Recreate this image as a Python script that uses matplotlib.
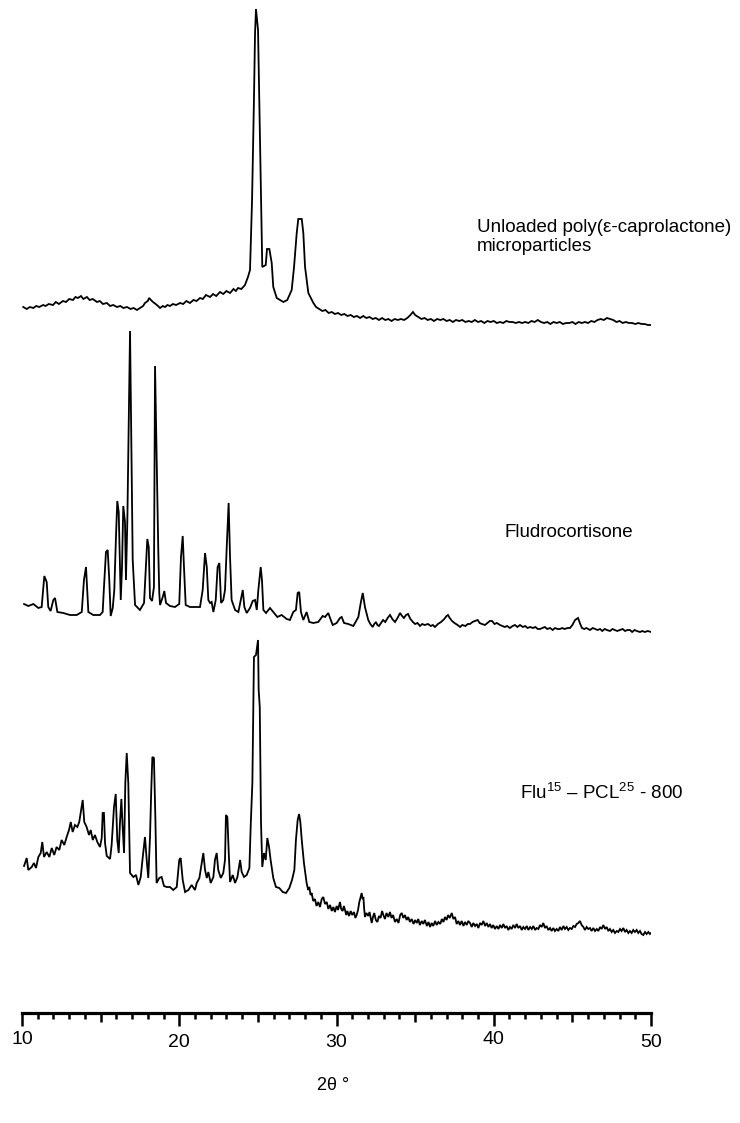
import matplotlib
matplotlib.use("Agg")
import matplotlib.pyplot as plt
from matplotlib.ticker import FixedLocator
from matplotlib.transforms import ScaledTranslation

plt.rcParams['font.family'] = ['Liberation Sans', 'DejaVu Sans']
plt.rcParams['mathtext.fontset'] = 'custom'
plt.rcParams['mathtext.rm'] = 'Liberation Sans'
plt.rcParams['mathtext.it'] = 'Liberation Sans'
plt.rcParams['mathtext.default'] = 'regular'

# ---------------- data (2-theta in degrees, intensity in arbitrary units) -------------
pcl_2theta = [
    10.08, 10.3, 10.5, 10.72, 10.9, 11.1, 11.34, 11.5, 11.7, 11.97,
    12.15, 12.35, 12.6, 12.8, 13.0, 13.24, 13.4, 13.56, 13.75, 13.9,
    14.13, 14.3, 14.5, 14.77, 14.95, 15.15, 15.4, 15.6, 15.8, 16.04,
    16.25, 16.45, 16.68, 16.9, 17.1, 17.31, 17.5, 17.7, 17.82, 18.0,
    18.08, 18.2, 18.33, 18.5, 18.65, 18.78, 18.95, 19.1, 19.25, 19.41,
    19.6, 19.8, 20.05, 20.25, 20.45, 20.68, 20.9, 21.1, 21.32, 21.5,
    21.7, 21.96, 22.15, 22.35, 22.59, 22.8, 23.0, 23.23, 23.45, 23.6,
    23.74, 23.95, 24.18, 24.37, 24.5, 24.63, 24.75, 24.82, 24.88, 25.01,
    25.09, 25.2, 25.28, 25.5, 25.58, 25.73, 25.88, 25.98, 26.2, 26.62,
    26.87, 27.15, 27.3, 27.47, 27.57, 27.79, 27.89, 28.0, 28.21, 28.53,
    28.7, 28.9, 29.1, 29.3, 29.5, 29.7, 29.9, 30.1, 30.3, 30.5,
    30.7, 30.9, 31.1, 31.3, 31.5, 31.7, 31.9, 32.1, 32.3, 32.5,
    32.7, 32.9, 33.1, 33.3, 33.5, 33.7, 33.9, 34.1, 34.3, 34.5,
    34.7, 34.86, 35.0, 35.2, 35.4, 35.6, 35.8, 36.0, 36.2, 36.4,
    36.6, 36.8, 37.0, 37.2, 37.4, 37.6, 37.8, 38.0, 38.2, 38.4,
    38.6, 38.8, 39.0, 39.2, 39.4, 39.6, 39.8, 40.0, 40.2, 40.4,
    40.6, 40.8, 41.0, 41.2, 41.4, 41.6, 41.8, 42.0, 42.2, 42.4,
    42.6, 42.8, 43.0, 43.2, 43.4, 43.6, 43.8, 44.0, 44.2, 44.4,
    44.6, 44.8, 45.0, 45.2, 45.4, 45.6, 45.8, 46.0, 46.2, 46.4,
    46.6, 46.8, 47.0, 47.2, 47.4, 47.6, 47.8, 48.0, 48.2, 48.4,
    48.6, 48.8, 49.0, 49.2, 49.4, 49.6, 49.8, 50.0]
pcl_counts = [
    18, 16, 18, 17, 19, 18, 20, 19, 21, 20,
    23, 21, 24, 23, 26, 25, 28, 27, 29, 26,
    28, 25, 26, 23, 24, 21, 22, 19, 20, 18,
    19, 17, 18, 16, 17, 15, 17, 19, 22, 24,
    27, 25, 23, 21, 19, 17, 19, 18, 20, 19,
    21, 20, 22, 21, 24, 22, 25, 24, 27, 26,
    30, 28, 31, 29, 33, 31, 34, 32, 36, 34,
    37, 36, 40, 48, 55, 125, 225, 292, 316, 295,
    225, 125, 58, 60, 76, 76, 62, 38, 27, 23,
    25, 35, 58, 92, 106, 106, 92, 58, 32, 22,
    18, 16, 14, 15, 12, 13, 11, 12, 10, 11,
    9, 10, 8, 9, 7, 9, 7, 8, 6, 7,
    5, 7, 5, 6, 4, 6, 5, 6, 5, 7,
    10, 13, 10, 8, 6, 7, 5, 6, 4, 6,
    5, 6, 4, 5, 3, 5, 4, 5, 3, 4,
    3, 5, 3, 4, 2, 4, 3, 4, 2, 3,
    2, 4, 3, 3, 2, 3, 2, 3, 2, 4,
    3, 5, 3, 2, 3, 1, 3, 2, 3, 1,
    2, 2, 3, 1, 3, 2, 3, 2, 4, 3,
    5, 6, 5, 7, 6, 5, 3, 4, 2, 3,
    2, 2, 1, 2, 1, 1, 0, 0]

flu_2theta = [
    10.13, 10.4, 10.72, 11.04, 11.25, 11.42, 11.57, 11.67, 11.82, 11.99,
    12.1, 12.25, 12.63, 13.05, 13.48, 13.8, 13.94, 14.07, 14.22, 14.53,
    14.96, 15.13, 15.21, 15.34, 15.45, 15.55, 15.64, 15.77, 15.87, 15.98,
    16.06, 16.15, 16.28, 16.36, 16.44, 16.55, 16.61, 16.7, 16.77, 16.87,
    16.97, 17.04, 17.19, 17.5, 17.76, 17.89, 17.97, 18.06, 18.14, 18.27,
    18.39, 18.46, 18.56, 18.67, 18.73, 18.78, 18.95, 19.05, 19.16, 19.41,
    19.73, 20.0, 20.11, 20.22, 20.3, 20.41, 20.68, 21.32, 21.49, 21.64,
    21.75, 21.85, 21.96, 22.06, 22.17, 22.32, 22.44, 22.55, 22.66, 22.8,
    22.91, 23.02, 23.14, 23.23, 23.33, 23.55, 23.76, 23.91, 24.04, 24.14,
    24.29, 24.5, 24.67, 24.82, 24.93, 25.03, 25.18, 25.26, 25.35, 25.52,
    25.77, 25.98, 26.24, 26.51, 26.83, 27.04, 27.25, 27.42, 27.53, 27.63,
    27.74, 27.89, 28.1, 28.27, 28.53, 28.84, 29.12, 29.27, 29.48, 29.59,
    29.76, 30.01, 30.22, 30.33, 30.48, 30.75, 31.07, 31.39, 31.54, 31.67,
    31.81, 32.02, 32.15, 32.3, 32.4, 32.51, 32.6, 32.7, 32.83, 32.96,
    33.1, 33.25, 33.4, 33.55, 33.72, 33.88, 34.04, 34.17, 34.29, 34.42,
    34.55, 34.7, 34.86, 35.0, 35.15, 35.31, 35.45, 35.6, 35.82, 36.0,
    36.13, 36.26, 36.45, 36.65, 36.85, 37.0, 37.09, 37.2, 37.35, 37.5,
    37.7, 37.86, 38.0, 38.2, 38.35, 38.49, 38.65, 38.8, 38.98, 39.1,
    39.25, 39.44, 39.6, 39.75, 39.89, 40.05, 40.2, 40.4, 40.55, 40.7,
    40.85, 41.03, 41.2, 41.35, 41.5, 41.67, 41.85, 42.0, 42.15, 42.31,
    42.5, 42.65, 42.8, 42.94, 43.1, 43.25, 43.4, 43.58, 43.75, 43.9,
    44.05, 44.21, 44.35, 44.5, 44.7, 44.85, 45.0, 45.17, 45.36, 45.5,
    45.61, 45.75, 45.9, 46.12, 46.3, 46.45, 46.6, 46.76, 46.9, 47.05,
    47.2, 47.39, 47.55, 47.7, 47.85, 48.03, 48.2, 48.35, 48.5, 48.66,
    48.8, 48.95, 49.1, 49.3, 49.45, 49.6, 49.8, 50.0]
flu_counts = [
    29, 27, 29, 25, 26, 57, 51, 26, 22, 33,
    35, 21, 20, 18, 18, 21, 53, 66, 21, 18,
    18, 21, 45, 81, 83, 53, 17, 25, 43, 98,
    132, 121, 33, 66, 127, 111, 53, 113, 193, 302,
    163, 73, 28, 23, 30, 70, 94, 86, 35, 32,
    46, 267, 180, 80, 40, 28, 36, 42, 30, 27,
    26, 29, 76, 97, 66, 28, 26, 26, 43, 80,
    66, 33, 30, 31, 21, 33, 66, 70, 30, 33,
    43, 86, 130, 76, 33, 23, 21, 33, 43, 26,
    20, 25, 32, 33, 23, 43, 66, 53, 23, 20,
    25, 21, 16, 18, 14, 13, 21, 23, 40, 41,
    21, 13, 21, 11, 10, 11, 17, 16, 20, 15,
    8, 10, 15, 16, 10, 9, 7, 16, 30, 40,
    26, 13, 9, 6, 9, 11, 8, 7, 10, 13,
    11, 15, 18, 14, 11, 15, 20, 17, 15, 18,
    19, 14, 11, 9, 10, 7, 9, 8, 9, 7,
    8, 6, 9, 11, 14, 17, 18, 15, 12, 10,
    8, 6, 8, 7, 9, 9, 11, 12, 13, 10,
    9, 8, 10, 12, 12, 9, 10, 8, 7, 6,
    7, 5, 7, 8, 6, 8, 6, 7, 5, 6,
    5, 6, 4, 4, 5, 6, 4, 5, 3, 5,
    4, 4, 5, 4, 5, 5, 8, 13, 15, 9,
    5, 4, 5, 3, 5, 4, 3, 4, 2, 4,
    3, 2, 4, 3, 2, 3, 4, 2, 3, 3,
    1, 3, 2, 1, 2, 1, 2, 1]

mix_2theta = [
    10.13, 10.3, 10.4, 10.62, 10.76, 10.89, 11.04, 11.19, 11.29, 11.4,
    11.57, 11.74, 11.89, 12.05, 12.2, 12.37, 12.52, 12.69, 12.84, 12.99,
    13.1, 13.22, 13.37, 13.52, 13.64, 13.73, 13.86, 13.96, 14.11, 14.26,
    14.37, 14.5, 14.64, 14.79, 14.96, 15.07, 15.13, 15.21, 15.28, 15.39,
    15.6, 15.7, 15.85, 15.96, 16.06, 16.15, 16.23, 16.32, 16.4, 16.49,
    16.57, 16.66, 16.76, 16.87, 17.08, 17.25, 17.4, 17.55, 17.68, 17.82,
    17.93, 18.03, 18.14, 18.22, 18.29, 18.39, 18.48, 18.56, 18.73, 18.88,
    19.03, 19.2, 19.41, 19.62, 19.84, 20.0, 20.09, 20.22, 20.37, 20.58,
    20.79, 21.0, 21.11, 21.28, 21.43, 21.53, 21.64, 21.75, 21.85, 22.0,
    22.17, 22.27, 22.38, 22.48, 22.64, 22.8, 22.91, 22.97, 23.06, 23.14,
    23.23, 23.4, 23.55, 23.7, 23.87, 23.97, 24.12, 24.29, 24.46, 24.55,
    24.65, 24.75, 24.88, 25.01, 25.05, 25.12, 25.2, 25.28, 25.39, 25.5,
    25.6, 25.71, 25.81, 25.98, 26.15, 26.36, 26.58, 26.79, 27.0, 27.17,
    27.32, 27.42, 27.53, 27.62, 27.7, 27.79, 27.93, 28.1, 28.2, 28.27,
    28.35, 28.42, 28.52, 28.63, 28.73, 28.84, 28.95, 29.06, 29.16, 29.27,
    29.38, 29.48, 29.59, 29.7, 29.8, 29.9, 30.01, 30.1, 30.22, 30.3,
    30.39, 30.47, 30.54, 30.62, 30.69, 30.8, 30.9, 31.0, 31.11, 31.2,
    31.28, 31.37, 31.45, 31.52, 31.6, 31.66, 31.71, 31.76, 31.81, 31.9,
    32.02, 32.1, 32.24, 32.32, 32.4, 32.5, 32.6, 32.7, 32.8, 32.9,
    32.98, 33.08, 33.18, 33.3, 33.4, 33.5, 33.6, 33.72, 33.83, 33.94,
    34.05, 34.15, 34.25, 34.35, 34.46, 34.56, 34.67, 34.78, 34.9, 35.0,
    35.1, 35.2, 35.3, 35.42, 35.52, 35.62, 35.75, 35.85, 35.95, 36.05,
    36.15, 36.27, 36.37, 36.48, 36.6, 36.7, 36.8, 36.9, 37.0, 37.1,
    37.2, 37.33, 37.43, 37.54, 37.64, 37.75, 37.85, 37.96, 38.07, 38.17,
    38.28, 38.38, 38.49, 38.6, 38.7, 38.81, 38.92, 39.02, 39.13, 39.23,
    39.34, 39.45, 39.55, 39.66, 39.76, 39.87, 39.97, 40.08, 40.19, 40.3,
    40.4, 40.51, 40.61, 40.72, 40.82, 40.93, 41.03, 41.14, 41.24, 41.35,
    41.46, 41.56, 41.67, 41.78, 41.88, 41.99, 42.1, 42.2, 42.31, 42.42,
    42.52, 42.63, 42.73, 42.84, 42.94, 43.05, 43.15, 43.26, 43.36, 43.47,
    43.58, 43.68, 43.79, 43.89, 44.0, 44.11, 44.21, 44.32, 44.43, 44.53,
    44.64, 44.74, 44.85, 44.96, 45.06, 45.17, 45.27, 45.38, 45.48, 45.59,
    45.7, 45.8, 45.91, 46.01, 46.12, 46.22, 46.33, 46.44, 46.55, 46.65,
    46.76, 46.86, 46.97, 47.08, 47.18, 47.29, 47.39, 47.5, 47.6, 47.71,
    47.82, 47.92, 48.03, 48.13, 48.24, 48.35, 48.45, 48.56, 48.66, 48.77,
    48.87, 48.98, 49.09, 49.19, 49.3, 49.4, 49.51, 49.62, 49.72, 49.83,
    49.93, 50.0]
mix_counts = [
    71, 79, 67, 70, 74, 69, 80, 84, 95, 80,
    85, 80, 89, 82, 90, 87, 97, 92, 100, 107,
    115, 105, 112, 110, 115, 124, 137, 115, 110, 102,
    107, 97, 102, 95, 90, 99, 124, 124, 94, 81,
    78, 92, 130, 143, 97, 84, 114, 138, 110, 84,
    154, 184, 154, 64, 60, 62, 52, 60, 80, 100,
    77, 59, 100, 147, 180, 179, 120, 54, 59, 60,
    51, 50, 50, 47, 50, 77, 79, 57, 45, 47,
    52, 47, 54, 59, 74, 84, 67, 59, 65, 54,
    60, 77, 84, 67, 59, 64, 77, 122, 120, 87,
    55, 62, 54, 60, 77, 65, 60, 62, 69, 114,
    154, 280, 282, 297, 247, 230, 114, 70, 84, 77,
    99, 90, 77, 59, 50, 49, 45, 44, 49, 57,
    67, 97, 117, 123, 115, 97, 74, 54, 47, 50,
    42, 44, 36, 38, 31, 35, 30, 38, 40, 33,
    35, 28, 32, 26, 30, 25, 31, 27, 35, 28,
    26, 31, 27, 22, 26, 21, 26, 22, 25, 19,
    22, 27, 35, 39, 44, 38, 40, 28, 20, 24,
    21, 25, 14, 20, 24, 17, 15, 21, 19, 26,
    22, 18, 24, 20, 25, 19, 22, 15, 18, 14,
    22, 24, 19, 22, 17, 20, 15, 18, 13, 17,
    14, 18, 12, 16, 13, 17, 11, 15, 10, 14,
    11, 16, 12, 15, 13, 18, 15, 20, 17, 22,
    19, 24, 18, 20, 13, 16, 12, 16, 11, 15,
    12, 16, 14, 10, 14, 11, 13, 9, 14, 12,
    16, 11, 14, 10, 13, 9, 12, 8, 11, 8,
    12, 9, 13, 9, 11, 7, 10, 8, 12, 9,
    13, 9, 11, 7, 10, 8, 11, 7, 10, 8,
    11, 7, 9, 8, 12, 10, 14, 9, 11, 7,
    9, 6, 9, 6, 8, 6, 10, 7, 11, 8,
    10, 7, 9, 8, 11, 10, 13, 14, 16, 12,
    10, 7, 10, 8, 9, 6, 9, 6, 8, 6,
    10, 8, 12, 8, 10, 6, 8, 5, 7, 4,
    6, 5, 8, 6, 9, 5, 7, 4, 6, 4,
    7, 5, 7, 4, 6, 3, 2, 5, 3, 5,
    3, 4]

sample_labels = ["Unloaded poly(\u03b5-caprolactone)\nmicroparticles",
                 "Fludrocortisone",
                 "Flu$^{15}$ \u2013 PCL$^{25}$ - 800"]
tick_values = [10, 20, 30, 40, 50]

# ---------------- layout ----------------
W, H = 740, 1123
fig = plt.figure(figsize=(W / 100, H / 100), dpi=100)
ax = fig.add_axes([22 / W, (H - 1013) / H, (651 - 22) / W, 1013 / H])
ax.set_xlim(10, 50)
ax.set_ylim(0, 1013)

offsets = [688, 380, 76]
series = [(pcl_2theta, pcl_counts), (flu_2theta, flu_counts), (mix_2theta, mix_counts)]
for (xs, ys), off in zip(series, offsets):
    ax.plot(xs, [v + off for v in ys], color='black', lw=1.3, solid_joinstyle='miter')

for s in ['left', 'right', 'top']:
    ax.spines[s].set_visible(False)
ax.spines['bottom'].set_linewidth(2.3)
ax.set_yticks([])
minor_locs = [v for v in range(10, 51) if v % 10 != 0]
ax.xaxis.set_major_locator(FixedLocator(tick_values))
ax.xaxis.set_minor_locator(FixedLocator(minor_locs))
ax.set_xticklabels([str(v) for v in tick_values])
ax.tick_params(axis='x', which='major', direction='out', length=9, width=1.8,
               labelsize=14, pad=6)
ax.tick_params(axis='x', which='minor', direction='out', length=4.5, width=1.8)
for t, loc in zip(ax.xaxis.get_minor_ticks(len(minor_locs)), minor_locs):
    if loc % 5 == 0:
        t.tick1line.set_markersize(6.5)

fig.canvas.draw()
for lab in ax.get_xticklabels():
    if lab.get_text() in ('10', '40'):
        lab.set_transform(lab.get_transform() + ScaledTranslation(0, 3 / 100, fig.dpi_scale_trans))

fig.text(333 / W, 1 - 1085 / H, "2\u03b8 \u00b0", ha='center', va='center', fontsize=13)

fig.text(477 / W, 1 - 237 / H, sample_labels[0], ha='left', va='center', fontsize=13.5,
         linespacing=1.2)
fig.text(505 / W, 1 - 533 / H, sample_labels[1], ha='left', va='center', fontsize=13.5)
fig.text(520 / W, 1 - 793 / H, sample_labels[2], ha='left', va='center', fontsize=13.5)

fig.savefig("out.png", dpi=100)
